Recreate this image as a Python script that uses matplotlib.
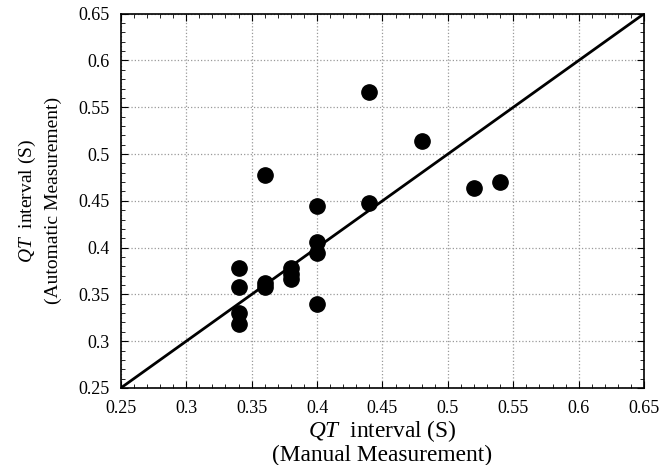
import numpy as np
import matplotlib
matplotlib.use('Agg')
import matplotlib.pyplot as plt
from matplotlib.ticker import MultipleLocator

plt.rcParams['font.family'] = 'Liberation Serif'
plt.rcParams['mathtext.fontset'] = 'custom'
plt.rcParams['mathtext.rm'] = 'Liberation Serif'
plt.rcParams['mathtext.it'] = 'Liberation Serif:italic'

# QT intervals (s)
manual = [0.34, 0.34, 0.34, 0.34,
          0.36, 0.36, 0.36,
          0.38, 0.38, 0.38,
          0.40, 0.40, 0.40, 0.40,
          0.44, 0.44,
          0.48, 0.52, 0.54]
automatic = [0.378, 0.358, 0.330, 0.318,
             0.478, 0.362, 0.358,
             0.378, 0.372, 0.366,
             0.444, 0.406, 0.394, 0.340,
             0.566, 0.448,
             0.514, 0.464, 0.470]
ticks = np.arange(0.25, 0.651, 0.05)

fig = plt.figure(figsize=(6.6, 4.65), dpi=100)
ax = fig.add_axes([0.183, 0.1656, 0.793, 0.805])

ax.plot([0.25, 0.65], [0.25, 0.65], 'k', lw=2, zorder=2)
ax.plot(manual, automatic, 'ko', ms=11, zorder=3)

ax.set_xlim(0.25, 0.65)
ax.set_ylim(0.25, 0.65)
ax.set_xticks(ticks)
ax.set_yticks(ticks)
ax.set_xticklabels(['%g' % t for t in ticks])
ax.set_yticklabels(['%g' % t for t in ticks])
ax.xaxis.set_minor_locator(MultipleLocator(0.01))
ax.yaxis.set_minor_locator(MultipleLocator(0.01))
ax.tick_params(which='both', direction='in', top=True, right=True, labelsize=13)
ax.tick_params(which='major', length=5)
ax.tick_params(axis='x', which='major', pad=9)
ax.tick_params(axis='y', which='major', pad=8)
ax.tick_params(which='minor', length=3)
for s in ax.spines.values():
    s.set_linewidth(1.2)

ax.grid(True, which='major', ls=':', color='#999999', lw=0.9)

ax.set_xlabel('$QT$  interval (S)\n(Manual Measurement)', fontsize=16.8, linespacing=1.05)
ax.set_ylabel('$QT$  interval (S)\n(Automatic Measurement)', fontsize=14, linespacing=1.5)
ax.xaxis.set_label_coords(0.5, -0.08)
ax.yaxis.set_label_coords(-0.112, 0.5)

fig.savefig('out.png', dpi=100)
